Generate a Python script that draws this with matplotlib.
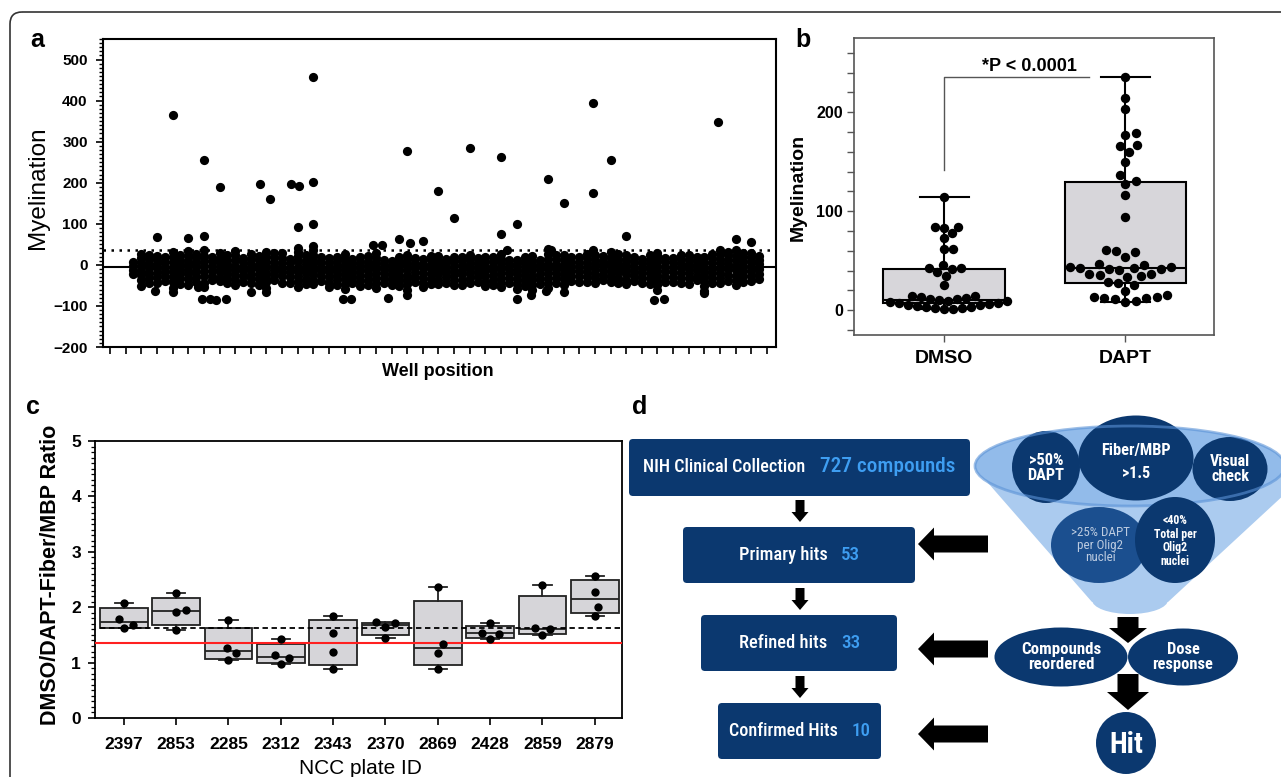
import numpy as np
import matplotlib
matplotlib.use('Agg')
import matplotlib.pyplot as plt
from matplotlib import font_manager
from matplotlib.patches import Ellipse, FancyBboxPatch, Polygon
from matplotlib.ticker import MultipleLocator

W, H = 1281, 777
plt.rcParams['font.family'] = ['Liberation Sans', 'DejaVu Sans']
names = {f.name for f in font_manager.fontManager.ttflist}
NARROW, NSTRETCH = 'Liberation Sans', 'normal'
for cand in ['Liberation Sans Narrow', 'Roboto Condensed', 'Open Sans Condensed',
             'Noto Sans Condensed', 'Arial Narrow']:
    if cand in names:
        NARROW = cand
        break
else:
    for f in font_manager.fontManager.ttflist:
        if f.stretch == 'condensed' and f.name in ('Noto Sans', 'Roboto', 'Open Sans', 'DejaVu Sans'):
            NARROW, NSTRETCH = f.name, 'condensed'
            break

# ---------------- panel a: screen (well position vs myelination) ----------
mean_line = -6
cutoff_line = 35
col_pos = [1.5, 2, 2.5, 3, 3.5, 4, 4.5, 5, 5.5, 6, 6.5, 7, 7.5, 8, 8.5, 9, 9.5,
           10, 10.5, 11, 11.5, 12, 12.5, 13, 13.5, 14, 14.5, 15, 15.5, 16, 16.5,
           17, 17.5, 18, 18.5, 19, 19.5, 20, 20.5, 21, 21.5, 22, 22.5, 23, 23.5,
           24, 24.5, 25, 25.5, 26, 26.5, 27, 27.5, 28, 28.5, 29, 29.5, 30, 30.5,
           31, 31.5, 32, 32.5, 33, 33.5, 34, 34.5, 35, 35.5, 36, 36.5, 37, 37.5,
           38, 38.5, 39, 39.5, 40, 40.5, 41, 41.5]
col_vals = [
    [-22, -12, -3, 6],
    [-51, -37, -24, -14, -3, 6, 17, 26], [-44, -31, -19, -8, 3, 14, 24],
    [-44, -29, -19, -7, 1, 13, 22], [-39, -27, -15, -4, 8, 19],
    [-57, -41, -30, -17, -5, 8, 19, 31], [-47, -33, -21, -10, 1, 12, 23],
    [-48, -35, -22, -13, -1, 9, 21, 33], [-42, -29, -17, -6, 5, 16, 27],
    [-55, -43, -27, -15, -3, 9, 22, 36], [-38, -26, -14, -2, 9, 20],
    [-39, -31, -17, -9, 5, 15, 29], [-45, -32, -20, -9, 2, 13, 25],
    [-49, -37, -25, -12, -2, 11, 23, 33], [-41, -28, -16, -5, 6, 17],
    [-45, -33, -23, -11, 3, 14, 27], [-48, -35, -22, -11, 0, 11, 22],
    [-56, -42, -31, -19, -5, 7, 19, 31], [-37, -25, -13, -3, 8, 19, 29],
    [-43, -28, -17, -7, 4, 17, 28], [-43, -30, -18, -7, 4, 15],
    [-53, -39, -27, -15, -4, 9, 21, 32, 41], [-46, -34, -21, -9, 2, 13, 24],
    [-47, -36, -23, -11, 1, 12, 25, 37], [-40, -27, -16, -5, 7, 18],
    [-54, -43, -29, -18, -7, 5, 17], [-50, -38, -25, -13, -2, 9, 20],
    [-59, -46, -33, -21, -9, 3, 15, 27], [-44, -31, -19, -8, 3, 14],
    [-51, -39, -27, -16, -5, 8, 19], [-49, -36, -24, -12, -1, 10, 21],
    [-57, -45, -31, -19, -8, 5, 16, 29], [-45, -32, -20, -9, 2, 13],
    [-50, -37, -25, -13, -3, 9], [-51, -39, -26, -14, -3, 8, 18],
    [-61, -47, -35, -24, -11, 1, 12, 23], [-42, -30, -17, -6, 5, 16],
    [-55, -43, -31, -20, -7, 3, 15], [-47, -35, -22, -11, 0, 11, 22],
    [-47, -36, -23, -13, -1, 10, 21], [-43, -29, -18, -7, 4, 15],
    [-49, -38, -25, -14, -2, 9, 19], [-48, -36, -23, -12, -1, 10, 20],
    [-43, -31, -21, -8, 3, 14, 24], [-41, -28, -16, -5, 6, 17],
    [-52, -41, -27, -15, -5, 7, 18], [-50, -37, -25, -13, -2, 9, 19],
    [-55, -44, -33, -19, -8, 4, 15, 27], [-45, -33, -20, -9, 2, 13],
    [-59, -47, -35, -23, -12, 1, 11], [-52, -40, -27, -15, -4, 7, 18],
    [-61, -49, -37, -26, -13, -2, 9, 21], [-47, -34, -22, -10, 1, 12],
    [-57, -45, -33, -21, -9, 3, 14, 27, 39], [-44, -31, -19, -8, 3, 14, 25],
    [-48, -35, -24, -12, -1, 11, 23], [-39, -26, -14, -3, 8, 19],
    [-41, -27, -15, -4, 7, 19], [-42, -30, -17, -6, 5, 16, 27],
    [-45, -33, -22, -9, 2, 13, 25], [-37, -25, -12, -1, 10, 21],
    [-42, -29, -18, -6, 5, 17, 31], [-43, -31, -18, -7, 4, 15, 26],
    [-47, -36, -23, -12, 0, 12, 24], [-40, -28, -15, -4, 7, 18],
    [-43, -32, -19, -8, 4, 15], [-46, -33, -21, -10, 1, 12, 23],
    [-62, -49, -37, -25, -14, -3, 9, 21, 28], [-41, -29, -16, -5, 6, 17],
    [-41, -29, -18, -5, 6, 17], [-44, -32, -19, -8, 3, 14, 25],
    [-46, -33, -21, -11, 2, 13, 24], [-38, -26, -13, -2, 9, 20],
    [-63, -51, -40, -27, -16, -4, 8, 19], [-45, -33, -20, -7, 4, 16, 27],
    [-44, -31, -20, -9, 4, 15, 27, 36], [-39, -24, -11, 1, 13, 24, 31],
    [-49, -37, -26, -13, -2, 11, 22, 35], [-42, -28, -15, -3, 9, 20, 30],
    [-39, -28, -15, -5, 8, 19, 30], [-35, -22, -10, 2, 12, 22],
]
hi_pos = [4.0, 3.0, 5.0, 6.0, 6.0, 7.0, 9.6, 10.2, 11.6, 12.1, 12.0, 13.0, 13.0,
          13.0, 13.0, 16.8, 17.4, 18.5, 19.0, 19.2, 20.0, 21.0, 22.0, 23.0, 25.0,
          25.0, 25.4, 26.0, 28.0, 28.2, 29.0, 30.9, 30.9, 30.9, 32.0, 33.0, 38.9,
          40.0, 41.0]
hi_vals = [365, 68, 66, 256, 71, 189, 196, 160, 196, 191, 93, 457, 203, 100, 45,
           49, 49, 64, 277, 54, 58, 179, 115, 284, 263, 74, 37, 100, 208, 35, 150,
           395, 175, 37, 255, 71, 349, 64, 56]
lo_pos = [2.9, 4.0, 5.6, 5.9, 6.4, 6.8, 7.4, 9.0, 10.0, 14.9, 15.4, 17.8, 19.0,
          26.0, 26.9, 27.9, 29.0, 34.8, 35.4, 38.0]
lo_vals = [-63, -66, -54, -82, -82, -85, -82, -66, -66, -83, -82, -80, -73, -83,
           -73, -63, -66, -85, -82, -68]

# ---------------- panel b: DMSO vs DAPT ----------------
dmso = [114.5, 84, 78, 83.5, 84.5, 72.7, 62, 61.6, 43, 42, 43, 46, 39, 35, 26,
        13.5, 14, 14, 0.8, 1.4, 1.9, 2.5, 3.1, 3.7, 4.3, 5.0, 5.6, 6.3, 7.0, 7.7,
        8.4, 9.1, 9.8, 10.5, 11.2, 11.8, 12.4]
dapt = [235.7, 214, 203, 179.5, 177, 165.6, 167, 160, 150, 137, 130.6, 127.6,
        116.5, 94.6, 61, 58.6, 59.6, 54, 46.5, 44, 42.8, 41.8, 41, 41.3, 42.5,
        43.4, 45.8, 37, 35.7, 34, 34.2, 36.4, 28.3, 25.6, 28.0, 19.9, 13.5, 12,
        11.4, 8.8, 9.4, 12.2, 13.3, 15.8]
b_groups = ['DMSO', 'DAPT']
b_q1 = [7, 28]
b_med = [10, 43]
b_q3 = [42, 130]
p_text = '*P < 0.0001'

# ---------------- panel c: plate ratios ----------------
plates = ['2397', '2853', '2285', '2312', '2343', '2370', '2869', '2428', '2859', '2879']
plate_vals = [
    [2.07, 1.78, 1.62, 1.68],
    [2.25, 1.95, 1.92, 1.59],
    [1.77, 1.26, 1.17, 1.05],
    [1.42, 1.13, 1.09, 0.98],
    [1.84, 1.53, 1.19, 0.88],
    [1.74, 1.65, 1.71, 1.45],
    [2.37, 1.33, 1.17, 0.88],
    [1.71, 1.53, 1.51, 1.43],
    [2.40, 1.62, 1.60, 1.49],
    [2.57, 2.28, 2.01, 1.84],
]
c_q1 = [1.63, 1.68, 1.07, 1.00, 0.96, 1.50, 0.95, 1.45, 1.51, 1.89]
c_med = [1.74, 1.94, 1.21, 1.11, 1.35, 1.67, 1.26, 1.53, 1.61, 2.14]
c_q3 = [1.98, 2.17, 1.63, 1.33, 1.76, 1.72, 2.12, 1.66, 2.20, 2.49]
dashed_ratio = 1.62
red_ratio = 1.35

NAVY = '#0b386f'
LIGHT_TXT = '#3e9ef2'


def px_axes(l, t, r, b):
    return fig.add_axes([l / W, 1 - b / H, (r - l) / W, (b - t) / H])


def swarm(vals, xc, d, sx, sy):
    # simple beeswarm: place sorted points as close to the centre as possible
    placed = []
    xs = np.zeros(len(vals))
    for i in np.argsort(vals):
        y = vals[i] * sy
        off = 0.0
        for k in range(2000):
            off = ((k + 1) // 2) * 0.5 * (1 if k % 2 else -1)
            if all((off - px) ** 2 + (y - py) ** 2 >= d * d for px, py in placed):
                break
        placed.append((off, y))
        xs[i] = xc + off / sx
    return xs


fig = plt.figure(figsize=(W / 100, H / 100), dpi=100)
renderer = fig.canvas.get_renderer()
ov = fig.add_axes([0, 0, 1, 1])
ov.set_xlim(0, W)
ov.set_ylim(H, 0)
ov.axis('off')

ov.add_patch(FancyBboxPatch((10, 12), 1320, 820, boxstyle='round,pad=0,rounding_size=12',
                            fill=False, ec='#333333', lw=1.2))

# ---- panel a
ax = px_axes(103, 39, 776, 347)
for s in ax.spines.values():
    s.set_linewidth(1.5)
ax.axhline(mean_line, color='black', lw=1.5, zorder=1)
ax.axhline(cutoff_line, color='black', lw=1.8, ls=(0, (1, 2.2)), zorder=1)
bx = np.concatenate([[p] * len(v) for p, v in zip(col_pos, col_vals)])
by = np.concatenate(col_vals)
ax.scatter(bx, by, s=44, color='black', lw=0, zorder=3)
ax.scatter(hi_pos, hi_vals, s=44, color='black', lw=0, zorder=3)
ax.scatter(lo_pos, lo_vals, s=44, color='black', lw=0, zorder=3)
ax.set_xlim(-0.45, 42.58)
ax.set_ylim(-200, 550)
ax.set_xticks(np.arange(0, 43))
ax.tick_params(axis='x', labelbottom=False, length=5, width=1.2)
ax.set_yticks(np.arange(-200, 501, 100))
ax.yaxis.set_minor_locator(MultipleLocator(10))
ax.tick_params(axis='y', which='major', length=5, width=1.2, labelsize=11, pad=6)
ax.tick_params(axis='y', which='minor', length=3, width=1)
for t in ax.get_yticklabels():
    t.set_fontweight('bold')
ov.text(38, 188, 'Myelination', rotation=90, fontsize=17.5, ha='center', va='center')
ov.text(438, 372, 'Well position', fontsize=13, fontweight='bold', ha='center', va='center')

# ---- panel b
ax = px_axes(854, 38, 1214, 335)
for s in ax.spines.values():
    s.set_linewidth(1.2)
    s.set_color('#555555')
stats = []
for g, vals, q1, md, q3 in zip(b_groups, [dmso, dapt], b_q1, b_med, b_q3):
    stats.append(dict(label=g, q1=q1, med=md, q3=q3, whislo=min(vals), whishi=max(vals)))
ax.bxp(stats, positions=[0, 1], widths=0.67, capwidths=0.27, patch_artist=True,
       showfliers=False,
       boxprops=dict(facecolor='#d7d6da', edgecolor='black', lw=1.5),
       whiskerprops=dict(color='black', lw=1.5), capprops=dict(color='black', lw=1.5),
       medianprops=dict(color='black', lw=1.5))
for i, (vals, dd) in enumerate([(dmso, 9.0), (dapt, 10.5)]):
    xs = swarm(np.array(vals), i, dd, 181, 0.99)
    ax.scatter(xs, vals, s=46, color='black', lw=0, zorder=4)
ax.plot([0, 0, 0.8], [142, 236, 236], color='#555555', lw=1)
ax.text(0.47, 246, p_text, fontsize=13, fontweight='bold', ha='center', va='center')
ax.set_xlim(-0.497, 1.49)
ax.set_ylim(-25, 275)
ax.set_yticks([0, 100, 200])
ax.yaxis.set_minor_locator(MultipleLocator(20))
ax.tick_params(axis='y', which='both', length=5, width=1, color='#555555', labelsize=11.5, pad=3)
ax.tick_params(axis='x', length=5, width=1, color='#555555', labelsize=14, pad=6)
for t in ax.get_yticklabels() + ax.get_xticklabels():
    t.set_fontweight('bold')
ov.text(798, 187, 'Myelination', rotation=90, fontsize=14, fontweight='bold', ha='center', va='center')

# ---- panel c
ax = px_axes(95, 441, 622, 718)
for s in ax.spines.values():
    s.set_linewidth(1.3)
pos = np.arange(len(plates))
stats = [dict(label=p, q1=a, med=m, q3=b, whislo=min(v), whishi=max(v))
         for p, v, a, m, b in zip(plates, plate_vals, c_q1, c_med, c_q3)]
ax.bxp(stats, positions=pos, widths=0.91, capwidths=0.35, patch_artist=True,
       showfliers=False,
       boxprops=dict(facecolor='#d6d5d9', edgecolor='#222222', lw=1.3),
       whiskerprops=dict(color='#222222', lw=1.3), capprops=dict(color='#222222', lw=1.3),
       medianprops=dict(color='#222222', lw=1.3))
ax.plot([-0.45, 9.52], [dashed_ratio, dashed_ratio], color='black', lw=1.3, ls=(0, (3, 2)), zorder=3)
ax.axhline(red_ratio, color='#ff2020', lw=1.5, zorder=3)
for i, vals in enumerate(plate_vals):
    xs = swarm(np.array(vals), i, 10.0, 52.4, 55.6)
    ax.scatter(xs, vals, s=36, color='black', lw=0, zorder=4)
ax.set_xlim(-0.55, 9.52)
ax.set_ylim(0, 5)
ax.yaxis.set_minor_locator(MultipleLocator(0.1))
ax.tick_params(axis='y', which='major', length=5, width=1.2, labelsize=12.5, pad=5)
ax.tick_params(axis='y', which='minor', length=3, width=0.9)
ax.tick_params(axis='x', length=5, width=1.2, labelsize=12.5, pad=9)
for t in ax.get_yticklabels() + ax.get_xticklabels():
    t.set_fontweight('bold')
ov.text(51, 575, 'DMSO/DAPT-Fiber/MBP Ratio', rotation=90, fontsize=15.5, fontweight='bold',
        ha='center', va='center')
ov.text(360, 768, 'NCC plate ID', fontsize=15, ha='center', va='center')

# ---- panel labels
for lab, x, y in [('a', 37, 40), ('b', 803, 40), ('c', 33, 407), ('d', 640, 407)]:
    ov.text(x, y, lab, fontsize=18, fontweight='bold', ha='center', va='center')


# ---- panel d: flow chart
def box(l, t, r, b):
    ov.add_patch(FancyBboxPatch((l, t), r - l, b - t, boxstyle='round,pad=0,rounding_size=4',
                                fc=NAVY, ec='none'))


def down_arrow(x, y0, y1, yh, sw, hw):
    ov.add_patch(Polygon([(x - sw, y0), (x + sw, y0), (x + sw, yh), (x + hw, yh), (x, y1),
                          (x - hw, yh), (x - sw, yh)], closed=True, fc='black', ec='none'))


def left_arrow(xt, xe, y, xh, sh, hh):
    ov.add_patch(Polygon([(xe, y - sh), (xh, y - sh), (xh, y - hh), (xt, y), (xh, y + hh),
                          (xh, y + sh), (xe, y + sh)], closed=True, fc='black', ec='none'))


def narrow(x, y, s, width_px, color='white', weight='normal', ha='center', ls=1.0):
    # size the text so its widest line is width_px wide, as in the reference
    t = ov.text(x, y, s, fontsize=12, family=[NARROW, 'DejaVu Sans'], stretch=NSTRETCH,
                color=color, fontweight=weight, ha=ha, va='center', linespacing=ls)
    w = t.get_window_extent(renderer=renderer).width
    t.set_fontsize(12 * width_px / w)
    return t


box(629, 439, 970, 496)
narrow(643, 467, 'NIH Clinical Collection', 162, weight='medium', ha='left')
narrow(820, 467, '727 compounds', 135, color=LIGHT_TXT, weight='medium', ha='left')
down_arrow(800, 500, 522, 512, 4.5, 8.5)
box(683, 527, 915, 583)
narrow(739, 555, 'Primary hits', 88, weight='medium', ha='left')
narrow(841, 555, '53', 19, color=LIGHT_TXT, weight='medium', ha='left')
down_arrow(800, 588, 610, 600, 4.5, 8.5)
box(701, 615, 897, 671)
narrow(739, 643, 'Refined hits', 88, weight='medium', ha='left')
narrow(841, 643, '33', 19, color=LIGHT_TXT, weight='medium', ha='left')
down_arrow(800, 676, 698, 688, 4.5, 8.5)
box(718, 703, 881, 759)
narrow(729, 731, 'Confirmed Hits', 109, weight='medium', ha='left')
narrow(852, 731, '10', 19, color=LIGHT_TXT, weight='medium', ha='left')
for yc in [544, 649, 734]:
    left_arrow(918, 988, yc, 934, 8.5, 16.5)

# funnel
ov.add_patch(Polygon([(975, 468), (1300, 468), (1300, 480), (1168, 602), (1092, 602)],
                     closed=True, fc='#abcbef', ec='none'))
ov.add_patch(Ellipse((1130, 600), 76, 28, fc='#abcbef', ec='none'))
ov.add_patch(Ellipse((1130, 466), 310, 80, fc='#92bbea', ec='none'))
ov.add_patch(Ellipse((1046, 467), 68, 72, fc=NAVY, ec='none'))
ov.add_patch(Ellipse((1136, 458), 115, 85, fc=NAVY, ec='none'))
ov.add_patch(Ellipse((1230, 469), 75, 64, fc=NAVY, ec='none'))
ov.add_patch(Ellipse((1130, 466), 310, 80, fc='none', ec='#5a92d6', lw=2, alpha=0.6))
ov.add_patch(Ellipse((1099, 545), 96, 76, fc='#1b4f8f', ec='none'))
ov.add_patch(Ellipse((1175, 540), 80, 86, fc=NAVY, ec='none'))
narrow(1046, 468, '>50%\nDAPT', 37, weight='bold', ls=0.95)
narrow(1136, 451, 'Fiber/MBP', 70, weight='bold')
narrow(1136, 474, '>1.5', 28, weight='bold')
narrow(1230, 469, 'Visual\ncheck', 40, weight='bold', ls=1.0)
narrow(1100, 545, '>25% DAPT\nper Olig2\nnuclei', 59, color='#bccbe0', ls=0.95)
narrow(1175, 541, '<40%\nTotal per\nOlig2\nnuclei', 43, weight='bold', ls=1.05)
down_arrow(1128, 617, 643, 628, 10.5, 19)
ov.add_patch(Ellipse((1061, 657), 133, 59, fc=NAVY, ec='none'))
ov.add_patch(Ellipse((1183, 657), 110, 57, fc=NAVY, ec='none'))
narrow(1061, 657, 'Compounds\nreordered', 80, weight='bold', ls=1.0)
narrow(1183, 657, 'Dose\nresponse', 61, weight='bold', ls=1.0)
down_arrow(1128, 674, 710, 692, 10.5, 21)
ov.add_patch(Ellipse((1126, 743), 60, 62, fc=NAVY, ec='none'))
narrow(1126, 745, 'Hit', 34, weight='bold')

fig.savefig('out.png', dpi=100)
